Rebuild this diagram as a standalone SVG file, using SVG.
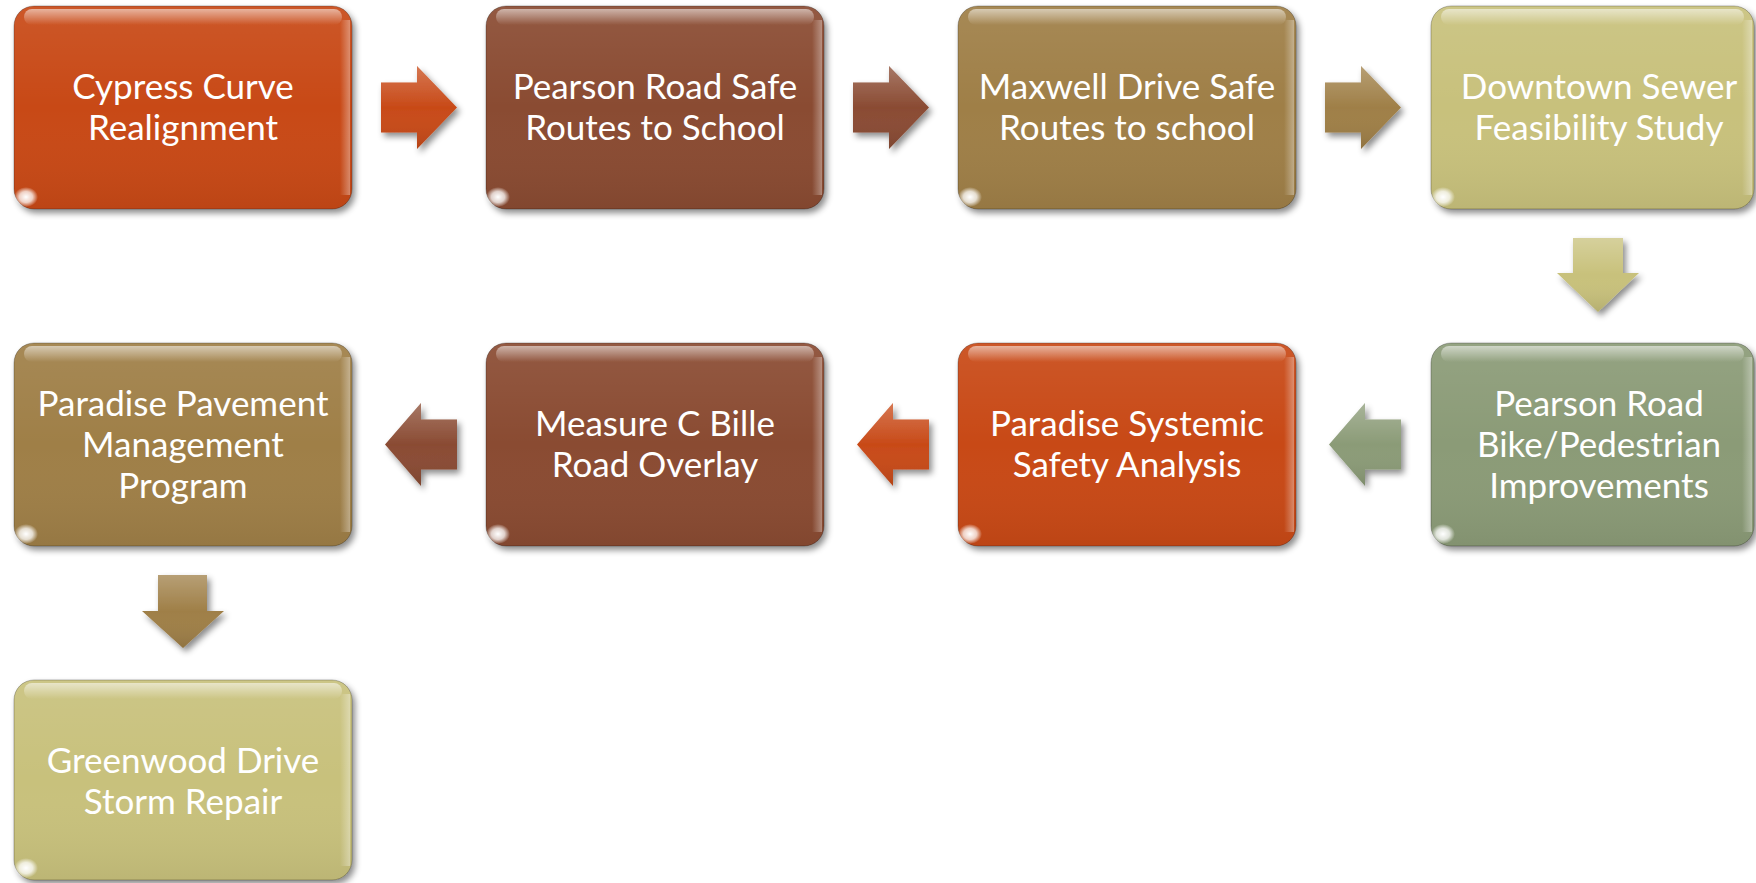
<svg xmlns="http://www.w3.org/2000/svg" width="1756" height="883" viewBox="0 0 1756 883">
<defs>
<filter id="sh" x="-10%" y="-10%" width="130%" height="130%">
<feDropShadow dx="3" dy="4" stdDeviation="3" flood-color="#000" flood-opacity="0.45"/>
</filter>
<linearGradient id="shine" x1="0" y1="0" x2="0" y2="1">
<stop offset="0" stop-color="#fff" stop-opacity="0.55"/>
<stop offset="1" stop-color="#fff" stop-opacity="0"/>
</linearGradient>
<linearGradient id="shade" x1="0" y1="0" x2="0" y2="1">
<stop offset="0" stop-color="#fff" stop-opacity="0.08"/>
<stop offset="0.5" stop-color="#fff" stop-opacity="0"/>
<stop offset="1" stop-color="#000" stop-opacity="0.06"/>
</linearGradient>
<linearGradient id="redge" x1="0" y1="0" x2="1" y2="0">
<stop offset="0" stop-color="#fff" stop-opacity="0"/>
<stop offset="1" stop-color="#fff" stop-opacity="0.35"/>
</linearGradient>
<radialGradient id="glint">
<stop offset="0" stop-color="#fff" stop-opacity="1"/>
<stop offset="0.55" stop-color="#fff" stop-opacity="0.75"/>
<stop offset="1" stop-color="#fff" stop-opacity="0"/>
</radialGradient>
<linearGradient id="ashine" x1="0" y1="0" x2="0" y2="1">
<stop offset="0" stop-color="#fff" stop-opacity="0.25"/>
<stop offset="0.5" stop-color="#fff" stop-opacity="0"/>
<stop offset="1" stop-color="#000" stop-opacity="0.1"/>
</linearGradient>
</defs>
<style>
.box{filter:url(#sh);stroke:#000;stroke-opacity:0.25;stroke-width:1}
.ov{fill:url(#shade)}
.hl{fill:url(#shine)}
.re{fill:url(#redge)}
.gl{fill:url(#glint)}
.lbl{font-family:Lato,"Open Sans",sans-serif;font-size:35px;fill:#fff;text-anchor:middle}
.arr{filter:url(#sh)}
.aov{fill:url(#ashine)}
.c1{fill:#C84A18}
.c2{fill:#8A4B33}
.c3{fill:#9F7F47}
.c4{fill:#C8C17B}
.c5{fill:#8B9B77}
</style>

<g id="connectors">
<g class="arr"><path class="c1" d="M381,82.5H417V66L457,107.5L417,149V132.5H381Z"/><path class="aov" d="M381,82.5H417V66L457,107.5L417,149V132.5H381Z"/></g>
<g class="arr"><path class="c2" d="M853,82.5H889V66L929,107.5L889,149V132.5H853Z"/><path class="aov" d="M853,82.5H889V66L929,107.5L889,149V132.5H853Z"/></g>
<g class="arr"><path class="c3" d="M1325,82.5H1361V66L1401,107.5L1361,149V132.5H1325Z"/><path class="aov" d="M1325,82.5H1361V66L1401,107.5L1361,149V132.5H1325Z"/></g>
<g class="arr"><path class="c4" d="M1573,238H1623V273H1639L1598,312L1557,273H1573Z"/><path class="aov" d="M1573,238H1623V273H1639L1598,312L1557,273H1573Z"/></g>
<g class="arr"><path class="c5" d="M1329,444.5L1365,403V419.5H1401V469.5H1365V486Z"/><path class="aov" d="M1329,444.5L1365,403V419.5H1401V469.5H1365V486Z"/></g>
<g class="arr"><path class="c1" d="M857,444.5L893,403V419.5H929V469.5H893V486Z"/><path class="aov" d="M857,444.5L893,403V419.5H929V469.5H893V486Z"/></g>
<g class="arr"><path class="c2" d="M385,444.5L421,403V419.5H457V469.5H421V486Z"/><path class="aov" d="M385,444.5L421,403V419.5H457V469.5H421V486Z"/></g>
<g class="arr"><path class="c3" d="M158,575H207V611H224L183,648L142,611H158Z"/><path class="aov" d="M158,575H207V611H224L183,648L142,611H158Z"/></g>
</g>

<g id="n1">
<rect class="box c1" x="14" y="6" width="338" height="203" rx="20"/>
<rect class="ov" x="14" y="6" width="338" height="203" rx="20"/>
<rect class="hl" x="24" y="9" width="318" height="16" rx="8"/>
<rect class="re" x="340" y="20" width="10" height="175"/>
<ellipse class="gl" cx="26" cy="197" rx="12" ry="10"/>
<text class="lbl" x="183" y="99">Cypress Curve</text>
<text class="lbl" x="183" y="140">Realignment</text>
</g>

<g id="n2">
<rect class="box c2" x="486" y="6" width="338" height="203" rx="20"/>
<rect class="ov" x="486" y="6" width="338" height="203" rx="20"/>
<rect class="hl" x="496" y="9" width="318" height="16" rx="8"/>
<rect class="re" x="812" y="20" width="10" height="175"/>
<ellipse class="gl" cx="498" cy="197" rx="12" ry="10"/>
<text class="lbl" x="655" y="99">Pearson Road Safe</text>
<text class="lbl" x="655" y="140">Routes to School</text>
</g>

<g id="n3">
<rect class="box c3" x="958" y="6" width="338" height="203" rx="20"/>
<rect class="ov" x="958" y="6" width="338" height="203" rx="20"/>
<rect class="hl" x="968" y="9" width="318" height="16" rx="8"/>
<rect class="re" x="1284" y="20" width="10" height="175"/>
<ellipse class="gl" cx="970" cy="197" rx="12" ry="10"/>
<text class="lbl" x="1127" y="99">Maxwell Drive Safe</text>
<text class="lbl" x="1127" y="140">Routes to school</text>
</g>

<g id="n4">
<rect class="box c4" x="1431" y="6" width="323" height="203" rx="20"/>
<rect class="ov" x="1431" y="6" width="323" height="203" rx="20"/>
<rect class="hl" x="1441" y="9" width="303" height="16" rx="8"/>
<rect class="re" x="1742" y="20" width="10" height="175"/>
<ellipse class="gl" cx="1443" cy="197" rx="12" ry="10"/>
<text class="lbl" x="1599" y="99">Downtown Sewer</text>
<text class="lbl" x="1599" y="140">Feasibility Study</text>
</g>

<g id="n5">
<rect class="box c5" x="1431" y="343" width="323" height="203" rx="20"/>
<rect class="ov" x="1431" y="343" width="323" height="203" rx="20"/>
<rect class="hl" x="1441" y="346" width="303" height="16" rx="8"/>
<rect class="re" x="1742" y="357" width="10" height="175"/>
<ellipse class="gl" cx="1443" cy="534" rx="12" ry="10"/>
<text class="lbl" x="1599" y="416">Pearson Road</text>
<text class="lbl" x="1599" y="457">Bike/Pedestrian</text>
<text class="lbl" x="1599" y="498">Improvements</text>
</g>

<g id="n6">
<rect class="box c1" x="958" y="343" width="338" height="203" rx="20"/>
<rect class="ov" x="958" y="343" width="338" height="203" rx="20"/>
<rect class="hl" x="968" y="346" width="318" height="16" rx="8"/>
<rect class="re" x="1284" y="357" width="10" height="175"/>
<ellipse class="gl" cx="970" cy="534" rx="12" ry="10"/>
<text class="lbl" x="1127" y="436">Paradise Systemic</text>
<text class="lbl" x="1127" y="477">Safety Analysis</text>
</g>

<g id="n7">
<rect class="box c2" x="486" y="343" width="338" height="203" rx="20"/>
<rect class="ov" x="486" y="343" width="338" height="203" rx="20"/>
<rect class="hl" x="496" y="346" width="318" height="16" rx="8"/>
<rect class="re" x="812" y="357" width="10" height="175"/>
<ellipse class="gl" cx="498" cy="534" rx="12" ry="10"/>
<text class="lbl" x="655" y="436">Measure C Bille</text>
<text class="lbl" x="655" y="477">Road Overlay</text>
</g>

<g id="n8">
<rect class="box c3" x="14" y="343" width="338" height="203" rx="20"/>
<rect class="ov" x="14" y="343" width="338" height="203" rx="20"/>
<rect class="hl" x="24" y="346" width="318" height="16" rx="8"/>
<rect class="re" x="340" y="357" width="10" height="175"/>
<ellipse class="gl" cx="26" cy="534" rx="12" ry="10"/>
<text class="lbl" x="183" y="416">Paradise Pavement</text>
<text class="lbl" x="183" y="457">Management</text>
<text class="lbl" x="183" y="498">Program</text>
</g>

<g id="n9">
<rect class="box c4" x="14" y="680" width="338" height="200" rx="20"/>
<rect class="ov" x="14" y="680" width="338" height="200" rx="20"/>
<rect class="hl" x="24" y="683" width="318" height="16" rx="8"/>
<rect class="re" x="340" y="694" width="10" height="172"/>
<ellipse class="gl" cx="26" cy="868" rx="12" ry="10"/>
<text class="lbl" x="183" y="773">Greenwood Drive</text>
<text class="lbl" x="183" y="814">Storm Repair</text>
</g>
</svg>
